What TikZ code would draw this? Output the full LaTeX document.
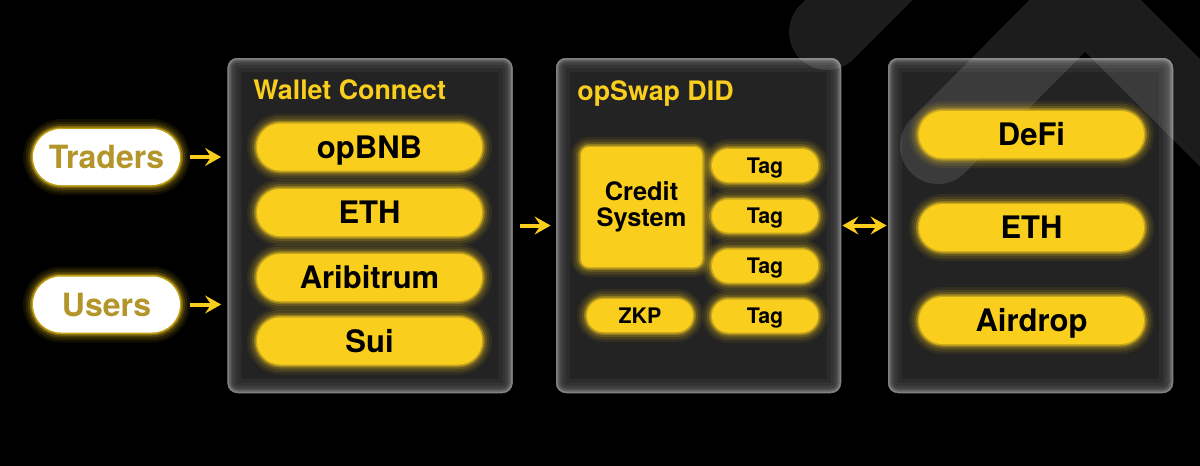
\documentclass[tikz,border=0pt]{standalone}
\usepackage{fontspec}
\setmainfont{TeX Gyre Heros}
\usepackage{tikz}
\usetikzlibrary{arrows.meta, positioning}
\definecolor{OPS_Yellow}{HTML}{F9CE1D}
\definecolor{OPS_Olive}{HTML}{B3952A}
\definecolor{OPS_Panel}{HTML}{232323}

\begin{document}
\begin{tikzpicture}[x=0.5pt, y=-0.5pt,
    panel/.style={rectangle, rounded corners=5pt, fill=OPS_Panel, minimum width=142.5pt, minimum height=167.5pt, inner sep=0pt,
      path picture={
        \foreach \w/\s in {14/4,10/8,7/13,4.5/20,3/28,1.5/42}
          \draw[white!\s!OPS_Panel, line width=\w pt, rounded corners=5pt]
            (path picture bounding box.south west) rectangle (path picture bounding box.north east);
      }},
    glow/.style={preaction={draw=OPS_Yellow, line width=10pt, opacity=0.07},
      preaction={draw=OPS_Yellow, line width=7.5pt, opacity=0.10},
      preaction={draw=OPS_Yellow, line width=5pt, opacity=0.16},
      preaction={draw=OPS_Yellow, line width=3pt, opacity=0.30},
      preaction={draw=OPS_Yellow, line width=1.5pt, opacity=0.55}},
    chainpill/.style={glow, fill=OPS_Yellow, rounded corners=11.75pt, minimum width=112.5pt, minimum height=23.5pt, inner sep=0pt,
      font=\fontsize{15.5}{18}\selectfont\bfseries, text height=11pt, text depth=0pt},
    tagpill/.style={glow, fill=OPS_Yellow, rounded corners=8.25pt, minimum width=53pt, minimum height=16.5pt, inner sep=0pt,
      font=\fontsize{10.7}{13}\selectfont\bfseries, text height=7.7pt, text depth=0pt},
    userpill/.style={glow, fill=white, text=OPS_Olive, rounded corners=14pt, minimum width=73.5pt, minimum height=28pt, inner sep=0pt,
      font=\fontsize{16}{19}\selectfont\bfseries, text height=11.5pt, text depth=0pt},
    creditbox/.style={glow, fill=OPS_Yellow, rounded corners=4pt, minimum width=60.5pt, minimum height=60pt, inner sep=0pt,
      align=center, font=\fontsize{12.7}{13}\selectfont\bfseries},
    paneltitle/.style={anchor=base west, text=OPS_Yellow, inner sep=0pt, font=\fontsize{13.4}{16}\selectfont\bfseries},
    arr/.style={draw=OPS_Yellow, line width=2pt, -{Stealth[length=8pt, width=9pt, inset=3pt]}},
    dblarr/.style={draw=OPS_Yellow, line width=2pt, {Stealth[length=8pt, width=9pt, inset=3pt]}-{Stealth[length=8pt, width=9pt, inset=3pt]}}
  ]
    \useasboundingbox (0,0) rectangle (1200,466);
    \fill[black] (0,0) rectangle (1200,466);

    % panels
    \node[panel] (wallet) at (370,225.5) {};
    \node[panel] (did) at (698.5,225.5) {};
    \node[panel] (apps) at (1030.5,225.5) {};

    % background chevrons
    \begin{scope}
      \clip (0,0) rectangle (1200,466);
      \draw[white, opacity=0.11, line width=38pt, line cap=round] (827,32) -- (950,-91);
      \draw[white, opacity=0.11, line width=38pt, line cap=round, line join=miter] (938,146) -- (1085,-2) -- (1300,213);
    \end{scope}

    % titles
    \node[paneltitle] (wtitle) at (253,99) {Wallet Connect};
    \node[paneltitle] (dtitle) at (577,100) {opSwap DID};

    % left side
    \node[userpill] (traders) at (106.5,157) {Traders};
    \node[userpill] (users) at (106.5,304.5) {Users};

    % wallet connect
    \node[chainpill] (opbnb) at (369.5,147) {opBNB};
    \node[chainpill] (eth1) at (369.5,212.5) {ETH};
    \node[chainpill] (arb) at (369.5,277.5) {Aribitrum};
    \node[chainpill] (sui) at (369.5,341) {Sui};

    % opSwap DID
    \node[creditbox] (credit) at (641.5,207) {Credit\\System};
    \foreach \y [count=\i] in {165.5,216,266,316}
      \node[tagpill] (tag\i) at (765,\y) {Tag};
    \node[tagpill] (zkp) at (640,315.5) {ZKP};

    % apps
    \node[chainpill] (defi) at (1031.5,134.5) {DeFi};
    \node[chainpill] (eth2) at (1031.5,227.5) {ETH};
    \node[chainpill] (airdrop) at (1031.5,320.5) {Airdrop};

    % arrows
    \draw[arr, shorten <=5pt, shorten >=3pt] (traders.east) -- (traders.east -| wallet.west);
    \draw[arr, shorten <=5pt, shorten >=3pt] (users.east) -- (users.east -| wallet.west);
    \draw[arr, shorten <=3.5pt, shorten >=2.5pt] (wallet.east) -- (did.west);
    \draw[dblarr, shorten <=0.5pt, shorten >=0.5pt] (did.east) -- (apps.west);
\end{tikzpicture}
\end{document}
